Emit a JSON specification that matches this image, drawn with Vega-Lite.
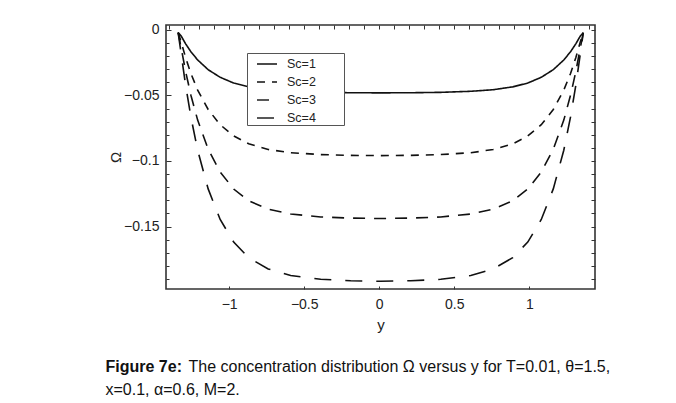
{
  "$schema": "https://vega.github.io/schema/vega-lite/v6.json",
  "width": 429,
  "height": 264,
  "autosize": {"type": "none"},
  "padding": {"left": 166, "top": 25, "right": 81, "bottom": 114},
  "background": "white",
  "config": {
    "view": {"stroke": "#333", "strokeWidth": 1.6},
    "axis": {"labelFont": "Liberation Sans", "labelFontSize": 14, "labelColor": "#222", "tickColor": "#333", "tickWidth": 1, "domain": false, "grid": false, "titleFont": "Liberation Sans", "titleFontSize": 15, "titleFontWeight": "normal", "titleColor": "#222"}
  },
  "data": {"values": [
    {"s":"Sc=1","p":-1.34,"w":-0.002},{"s":"Sc=1","p":-1.32,"w":-0.0046},{"s":"Sc=1","p":-1.29,"w":-0.0106},{"s":"Sc=1","p":-1.255,"w":-0.0166},{"s":"Sc=1","p":-1.21,"w":-0.0229},{"s":"Sc=1","p":-1.14,"w":-0.0303},{"s":"Sc=1","p":-1.06,"w":-0.0361},{"s":"Sc=1","p":-0.97,"w":-0.0405},{"s":"Sc=1","p":-0.87,"w":-0.0434},{"s":"Sc=1","p":-0.74,"w":-0.0456},{"s":"Sc=1","p":-0.59,"w":-0.0468},{"s":"Sc=1","p":-0.39,"w":-0.0476},{"s":"Sc=1","p":-0.19,"w":-0.0479},{"s":"Sc=1","p":0.01,"w":-0.048},{"s":"Sc=1","p":0.21,"w":-0.0479},{"s":"Sc=1","p":0.41,"w":-0.0476},{"s":"Sc=1","p":0.61,"w":-0.0468},{"s":"Sc=1","p":0.76,"w":-0.0456},{"s":"Sc=1","p":0.89,"w":-0.0434},{"s":"Sc=1","p":0.99,"w":-0.0405},{"s":"Sc=1","p":1.08,"w":-0.0361},{"s":"Sc=1","p":1.16,"w":-0.0303},{"s":"Sc=1","p":1.23,"w":-0.0229},{"s":"Sc=1","p":1.275,"w":-0.0166},{"s":"Sc=1","p":1.31,"w":-0.0106},{"s":"Sc=1","p":1.34,"w":-0.0046},{"s":"Sc=1","p":1.36,"w":-0.002},
    {"s":"Sc=2","p":-1.34,"w":-0.002},{"s":"Sc=2","p":-1.32,"w":-0.0091},{"s":"Sc=2","p":-1.29,"w":-0.0212},{"s":"Sc=2","p":-1.255,"w":-0.0332},{"s":"Sc=2","p":-1.21,"w":-0.0459},{"s":"Sc=2","p":-1.14,"w":-0.0607},{"s":"Sc=2","p":-1.06,"w":-0.0723},{"s":"Sc=2","p":-0.97,"w":-0.0809},{"s":"Sc=2","p":-0.87,"w":-0.0869},{"s":"Sc=2","p":-0.74,"w":-0.0912},{"s":"Sc=2","p":-0.59,"w":-0.0937},{"s":"Sc=2","p":-0.39,"w":-0.0951},{"s":"Sc=2","p":-0.19,"w":-0.0957},{"s":"Sc=2","p":0.01,"w":-0.0959},{"s":"Sc=2","p":0.21,"w":-0.0957},{"s":"Sc=2","p":0.41,"w":-0.0951},{"s":"Sc=2","p":0.61,"w":-0.0937},{"s":"Sc=2","p":0.76,"w":-0.0912},{"s":"Sc=2","p":0.89,"w":-0.0869},{"s":"Sc=2","p":0.99,"w":-0.0809},{"s":"Sc=2","p":1.08,"w":-0.0723},{"s":"Sc=2","p":1.16,"w":-0.0607},{"s":"Sc=2","p":1.23,"w":-0.0459},{"s":"Sc=2","p":1.275,"w":-0.0332},{"s":"Sc=2","p":1.31,"w":-0.0212},{"s":"Sc=2","p":1.34,"w":-0.0091},{"s":"Sc=2","p":1.36,"w":-0.002},
    {"s":"Sc=3","p":-1.34,"w":-0.002},{"s":"Sc=3","p":-1.32,"w":-0.0137},{"s":"Sc=3","p":-1.29,"w":-0.0318},{"s":"Sc=3","p":-1.255,"w":-0.0498},{"s":"Sc=3","p":-1.21,"w":-0.0688},{"s":"Sc=3","p":-1.14,"w":-0.091},{"s":"Sc=3","p":-1.06,"w":-0.1084},{"s":"Sc=3","p":-0.97,"w":-0.1214},{"s":"Sc=3","p":-0.87,"w":-0.1303},{"s":"Sc=3","p":-0.74,"w":-0.1368},{"s":"Sc=3","p":-0.59,"w":-0.1405},{"s":"Sc=3","p":-0.39,"w":-0.1427},{"s":"Sc=3","p":-0.19,"w":-0.1436},{"s":"Sc=3","p":0.01,"w":-0.1439},{"s":"Sc=3","p":0.21,"w":-0.1436},{"s":"Sc=3","p":0.41,"w":-0.1427},{"s":"Sc=3","p":0.61,"w":-0.1405},{"s":"Sc=3","p":0.76,"w":-0.1368},{"s":"Sc=3","p":0.89,"w":-0.1303},{"s":"Sc=3","p":0.99,"w":-0.1214},{"s":"Sc=3","p":1.08,"w":-0.1084},{"s":"Sc=3","p":1.16,"w":-0.091},{"s":"Sc=3","p":1.23,"w":-0.0688},{"s":"Sc=3","p":1.275,"w":-0.0498},{"s":"Sc=3","p":1.31,"w":-0.0318},{"s":"Sc=3","p":1.34,"w":-0.0137},{"s":"Sc=3","p":1.36,"w":-0.002},
    {"s":"Sc=4","p":-1.34,"w":-0.002},{"s":"Sc=4","p":-1.32,"w":-0.0182},{"s":"Sc=4","p":-1.29,"w":-0.0424},{"s":"Sc=4","p":-1.255,"w":-0.0664},{"s":"Sc=4","p":-1.21,"w":-0.0918},{"s":"Sc=4","p":-1.14,"w":-0.1213},{"s":"Sc=4","p":-1.06,"w":-0.1446},{"s":"Sc=4","p":-0.97,"w":-0.1619},{"s":"Sc=4","p":-0.87,"w":-0.1738},{"s":"Sc=4","p":-0.74,"w":-0.1824},{"s":"Sc=4","p":-0.59,"w":-0.1874},{"s":"Sc=4","p":-0.39,"w":-0.1903},{"s":"Sc=4","p":-0.19,"w":-0.1914},{"s":"Sc=4","p":0.01,"w":-0.1918},{"s":"Sc=4","p":0.21,"w":-0.1914},{"s":"Sc=4","p":0.41,"w":-0.1903},{"s":"Sc=4","p":0.61,"w":-0.1874},{"s":"Sc=4","p":0.76,"w":-0.1824},{"s":"Sc=4","p":0.89,"w":-0.1738},{"s":"Sc=4","p":0.99,"w":-0.1619},{"s":"Sc=4","p":1.08,"w":-0.1446},{"s":"Sc=4","p":1.16,"w":-0.1213},{"s":"Sc=4","p":1.23,"w":-0.0918},{"s":"Sc=4","p":1.275,"w":-0.0664},{"s":"Sc=4","p":1.31,"w":-0.0424},{"s":"Sc=4","p":1.34,"w":-0.0182},{"s":"Sc=4","p":1.36,"w":-0.002}
  ]},
  "layer": [
    {
      "mark": {"type": "line", "color": "#111", "strokeWidth": 1.6},
      "encoding": {
        "x": {"field": "p", "type": "quantitative", "scale": {"domain": [-1.421, 1.438], "nice": false, "zero": false},
          "axis": {"orient": "bottom", "values": [-1, -0.5, 0, 0.5, 1], "format": "~g", "tickSize": -3, "labelPadding": 11, "title": "y", "titlePadding": 6}},
        "y": {"field": "w", "type": "quantitative", "scale": {"domain": [-0.1977, 0.0038], "nice": false, "zero": false},
          "axis": {"orient": "left", "values": [-0.15, -0.1, -0.05, 0], "format": "~g", "tickSize": -5, "labelPadding": 12, "title": "Ω", "titlePadding": 0}},
        "strokeDash": {"field": "s", "type": "nominal",
          "scale": {"domain": ["Sc=1", "Sc=2", "Sc=3", "Sc=4"], "range": [[1, 0], [8, 7], [12, 9], [17, 14]]},
          "legend": {"orient": "none", "legendX": 81, "legendY": 28, "title": "Sc=", "titleOrient": "right", "titleOpacity": 0, "titleFontSize": 13, "titlePadding": 4, "strokeColor": "#555", "fillColor": "white", "padding": 0, "symbolOffset": 9, "symbolType": "stroke", "symbolSize": 400, "symbolStrokeWidth": 1.4, "symbolStrokeColor": "#111", "labelFont": "Liberation Sans", "labelFontSize": 12.5, "labelColor": "#222", "rowPadding": -9, "labelOffset": 9}}
      }
    },
    {
      "mark": {"type": "point", "opacity": 0},
      "encoding": {
        "x": {"field": "p", "type": "quantitative",
          "axis": {"orient": "top", "values": [-1.4,-1.3,-1.2,-1.1,-1,-0.9,-0.8,-0.7,-0.6,-0.5,-0.4,-0.3,-0.2,-0.1,0,0.1,0.2,0.3,0.4,0.5,0.6,0.7,0.8,0.9,1,1.1,1.2,1.3,1.4], "labels": false, "tickSize": -4, "title": null}},
        "y": {"field": "w", "type": "quantitative",
          "axis": {"orient": "right", "values": [-0.19,-0.18,-0.17,-0.16,-0.15,-0.14,-0.13,-0.12,-0.11,-0.1,-0.09,-0.08,-0.07,-0.06,-0.05,-0.04,-0.03,-0.02,-0.01,0], "labels": false, "tickSize": -4, "title": null}}
      }
    },
    {
      "mark": {"type": "point", "opacity": 0},
      "encoding": {
        "x": {"field": "p", "type": "quantitative",
          "axis": {"orient": "bottom", "labels": false, "ticks": false, "title": "Figure 7e:", "titleX": -61, "titleY": 82, "titleAlign": "left", "titleBaseline": "alphabetic", "titleFontSize": 16, "titleFontWeight": "bold", "titleColor": "#111"}},
        "y": {"field": "w", "type": "quantitative",
          "axis": {"orient": "left", "values": [-0.19,-0.18,-0.17,-0.16,-0.14,-0.13,-0.12,-0.11,-0.09,-0.08,-0.07,-0.06,-0.04,-0.03,-0.02,-0.01], "labels": false, "tickSize": -3, "title": null}}
      }
    },
    {
      "mark": {"type": "point", "opacity": 0},
      "encoding": {
        "x": {"field": "p", "type": "quantitative",
          "axis": {"orient": "bottom", "labels": false, "ticks": false, "title": "The concentration distribution Ω versus y for T=0.01, θ=1.5,", "titleX": 22, "titleY": 82, "titleAlign": "left", "titleBaseline": "alphabetic", "titleFontSize": 16, "titleColor": "#111"}},
        "y": {"field": "w", "type": "quantitative", "axis": null}
      }
    },
    {
      "mark": {"type": "point", "opacity": 0},
      "encoding": {
        "x": {"field": "p", "type": "quantitative",
          "axis": {"orient": "bottom", "labels": false, "ticks": false, "title": "x=0.1, α=0.6, M=2.", "titleX": -61, "titleY": 105, "titleAlign": "left", "titleBaseline": "alphabetic", "titleFontSize": 16, "titleColor": "#111"}},
        "y": {"field": "w", "type": "quantitative", "axis": null}
      }
    }
  ],
  "resolve": {"axis": {"x": "independent", "y": "independent"}}
}
